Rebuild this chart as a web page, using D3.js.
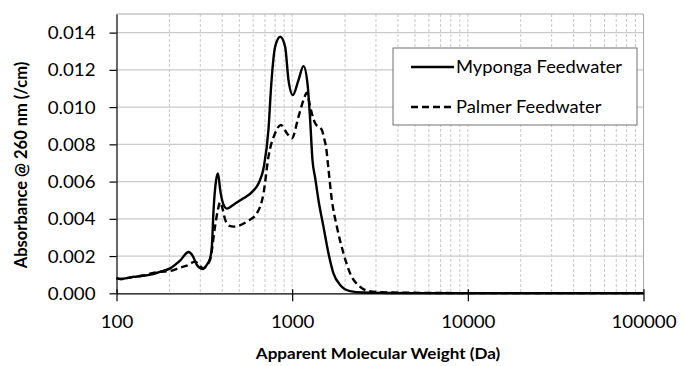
<!DOCTYPE html>
<html>
<head>
<meta charset="utf-8">
<script src="https://cdn.jsdelivr.net/npm/d3@7"></script>
<style>
  html, body { margin: 0; padding: 0; background: #fff; }
  svg { display: block; }
  text { font-family: Lato, "Open Sans", sans-serif; fill: #000; }
</style>
</head>
<body>
<svg id="chart" width="681" height="366"></svg>
<script>
// Apparent molecular weight (Da) vs absorbance at 260 nm (/cm)
const mypongaMW = [100, 106, 112, 125, 140, 156, 175, 202, 230, 257, 272, 287, 300, 310, 325, 341, 349, 357, 368, 378, 390, 405, 425, 470, 528, 600, 643, 690, 733, 760, 800, 855, 912, 953, 1009, 1086, 1160, 1222, 1266, 1305, 1352, 1412, 1507, 1609, 1718, 1876, 2138, 2535, 3500, 5000, 10000, 30000, 100000];
const mypongaAbs = [0.00082, 0.00077, 0.00080, 0.00088, 0.00094, 0.00100, 0.00114, 0.00134, 0.00175, 0.00222, 0.00200, 0.00152, 0.00135, 0.00130, 0.00150, 0.00188, 0.00250, 0.00450, 0.00600, 0.00644, 0.00550, 0.00480, 0.00455, 0.00480, 0.00510, 0.00550, 0.00590, 0.00680, 0.00880, 0.01120, 0.01324, 0.01378, 0.01324, 0.01145, 0.01065, 0.01145, 0.01220, 0.01128, 0.00930, 0.00716, 0.00620, 0.00500, 0.00358, 0.00215, 0.00107, 0.00045, 0.00012, 0.00004, 0.00002, 0.00001, 0.00001, 0.00001, 0.00001];

const palmerMW = [100, 106, 112, 125, 140, 160, 177, 202, 230, 251, 280, 300, 312, 325, 341, 364, 378, 389, 400, 416, 440, 463, 552, 630, 687, 733, 800, 863, 933, 996, 1086, 1160, 1213, 1266, 1352, 1476, 1522, 1562, 1600, 1683, 1797, 1959, 2138, 2438, 2718, 3165, 4697, 10000, 100000];
const palmerAbs = [0.00082, 0.00077, 0.00080, 0.00088, 0.00094, 0.00108, 0.00115, 0.00120, 0.00138, 0.00148, 0.00170, 0.00145, 0.00134, 0.00150, 0.00179, 0.00360, 0.00450, 0.00490, 0.00460, 0.00394, 0.00362, 0.00358, 0.00385, 0.00430, 0.00537, 0.00734, 0.00860, 0.00904, 0.00860, 0.00832, 0.00948, 0.01038, 0.01077, 0.01002, 0.00913, 0.00877, 0.00830, 0.00780, 0.00690, 0.00500, 0.00358, 0.00215, 0.00107, 0.00035, 0.00012, 0.00006, 0.00003, 0.00001, 0.00001];

const seriesNames = ["Myponga Feedwater", "Palmer Feedwater"];
const xTicks = [100, 1000, 10000, 100000];
const yTicks = [0, 0.002, 0.004, 0.006, 0.008, 0.010, 0.012, 0.014];
const xTitle = "Apparent Molecular Weight (Da)";
const yTitle = "Absorbance @ 260 nm (/cm)";

const W = 681, H = 366;
const plot = { left: 116.5, right: 643.5, top: 14, bottom: 293.3 };
const stretch = 1.1;

const svg = d3.select("#chart");

const x = d3.scaleLog().domain([100, 100000]).range([plot.left, plot.right]);
const y = d3.scaleLinear().domain([0, 0.015]).range([plot.bottom, plot.top]);

// minor log gridlines (2..9 within each decade, plus inner decades)
const minor = [];
for (let d = 100; d < 100000; d *= 10) {
  for (let m = 1; m < 10; m++) {
    const v = d * m;
    if (v > 100) minor.push(v);
  }
}
svg.append("g").selectAll("line").data(minor).join("line")
  .attr("x1", d => x(d)).attr("x2", d => x(d))
  .attr("y1", plot.top).attr("y2", plot.bottom)
  .attr("stroke", "#c8c8c8").attr("stroke-width", 1)
  .attr("stroke-dasharray", "3,2");

svg.append("g").selectAll("line").data(yTicks.filter(v => v > 0)).join("line")
  .attr("x1", plot.left).attr("x2", plot.right)
  .attr("y1", d => y(d)).attr("y2", d => y(d))
  .attr("stroke", "#cacaca").attr("stroke-width", 1.2);

// plot frame (top and right)
svg.append("path")
  .attr("d", `M${plot.left},${plot.top}H${plot.right}V${plot.bottom}`)
  .attr("fill", "none").attr("stroke", "#a8a8a8").attr("stroke-width", 1);

// series
const line = d3.line().x(d => x(d[0])).y(d => y(d[1])).curve(d3.curveMonotoneX);
const myponga = mypongaMW.map((m, i) => [m, mypongaAbs[i]]);
const palmer = palmerMW.map((m, i) => [m, palmerAbs[i]]);

svg.append("path").datum(palmer).attr("d", line)
  .attr("fill", "none").attr("stroke", "#000").attr("stroke-width", 2.4)
  .attr("stroke-dasharray", "7,4");
svg.append("path").datum(myponga).attr("d", line)
  .attr("fill", "none").attr("stroke", "#000").attr("stroke-width", 2.4);

// axes
const yAxis = svg.append("g").attr("transform", `translate(${plot.left},0)`)
  .call(d3.axisLeft(y).tickValues(yTicks).tickSize(7).tickSizeOuter(0).tickFormat(d3.format(".3f")));
yAxis.select(".domain").attr("stroke", "#000").attr("stroke-width", 1.2);
yAxis.selectAll(".tick line").attr("stroke", "#000").attr("stroke-width", 1.2);
yAxis.selectAll(".tick text")
  .attr("x", 0).attr("dy", "0.35em")
  .attr("transform", `translate(-21,0) scale(${stretch},1)`)
  .style("font-size", "17px").style("font-family", "Lato, sans-serif");

const xAxis = svg.append("g").attr("transform", `translate(0,${plot.bottom})`)
  .call(d3.axisBottom(x).tickValues(xTicks).tickSize(8).tickSizeOuter(0).tickFormat(d3.format("d")));
xAxis.select(".domain").attr("stroke", "#000").attr("stroke-width", 1.2);
xAxis.selectAll(".tick line").attr("y1", -4).attr("stroke", "#000").attr("stroke-width", 1.2);
xAxis.selectAll(".tick text")
  .attr("y", 0).attr("dy", 0)
  .attr("transform", `translate(0,35) scale(${stretch},1)`)
  .style("font-size", "17px").style("font-family", "Lato, sans-serif");

// axis titles
svg.append("text")
  .attr("transform", `translate(${(plot.left + plot.right) / 2 - 2},359) scale(${stretch},1)`)
  .attr("text-anchor", "middle")
  .style("font-size", "15.5px").style("font-weight", "bold")
  .text(xTitle);

svg.append("text")
  .attr("transform", `translate(27,165) rotate(-90)`)
  .attr("text-anchor", "middle")
  .style("font-size", "16.5px").style("font-weight", "bold")
  .text(yTitle);

// legend
const lg = svg.append("g");
lg.append("rect").attr("x", 393).attr("y", 48).attr("width", 244).attr("height", 77)
  .attr("fill", "#fff").attr("stroke", "#707070").attr("stroke-width", 1);
const legendRows = [{ name: seriesNames[0], dash: null, cy: 67 }, { name: seriesNames[1], dash: "7,4", cy: 107 }];
legendRows.forEach(r => {
  lg.append("line").attr("x1", 411).attr("x2", 454).attr("y1", r.cy).attr("y2", r.cy)
    .attr("stroke", "#000").attr("stroke-width", 2.4)
    .attr("stroke-dasharray", r.dash);
  lg.append("text")
    .attr("transform", `translate(456,${r.cy}) scale(1.08,1)`)
    .attr("dy", "0.35em")
    .style("font-size", "17px")
    .text(r.name);
});
</script>
</body>
</html>
